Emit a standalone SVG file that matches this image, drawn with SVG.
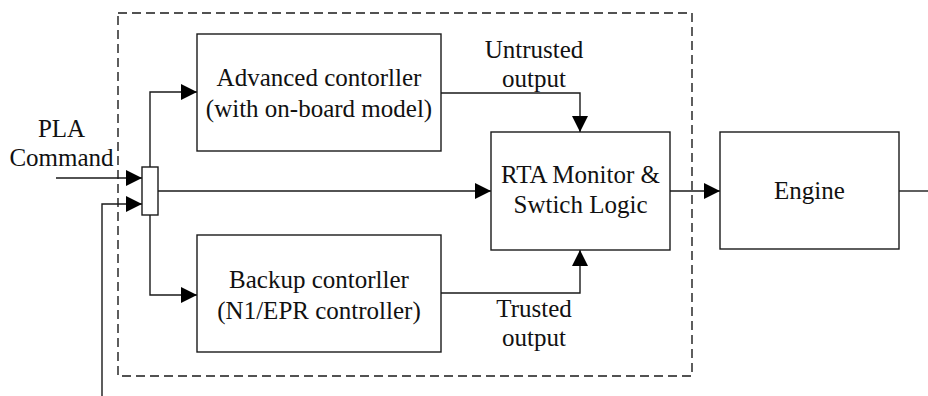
<svg xmlns="http://www.w3.org/2000/svg" width="928" height="396" viewBox="0 0 928 396">
  <style>
    .box { fill: #ffffff; stroke: #1a1a1a; stroke-width: 1.4; }
    .frame { fill: none; stroke: #1a1a1a; stroke-width: 1.4; stroke-dasharray: 9 5; }
    .wire { fill: none; stroke: #1a1a1a; stroke-width: 1.4; }
    text { font-family: 'Liberation Serif', 'Times New Roman', Times, 'DejaVu Serif', serif; font-size: 25px; fill: #111111; text-anchor: middle; }
  </style>
  <defs>
    <marker id="arrow" viewBox="0 0 16 16" markerWidth="16" markerHeight="16" refX="16" refY="8" orient="auto" markerUnits="userSpaceOnUse">
      <path d="M0,0 L16,8 L0,16 z" fill="#000000"/>
    </marker>
  </defs>

  <!-- controller boundary -->
  <rect id="controller-boundary" class="frame" x="118" y="13" width="574" height="363"/>

  <!-- connectors -->
  <g id="connectors">
    <path class="wire" d="M56,178 H142" marker-end="url(#arrow)"/>
    <path class="wire" d="M102,396 V204 H142" marker-end="url(#arrow)"/>
    <path class="wire" d="M150,167 V92 H197" marker-end="url(#arrow)"/>
    <path class="wire" d="M150,215 V295 H197" marker-end="url(#arrow)"/>
    <path class="wire" d="M158,191 H491" marker-end="url(#arrow)"/>
    <path class="wire" d="M441,93 H580 V132" marker-end="url(#arrow)"/>
    <path class="wire" d="M441,293 H580 V250" marker-end="url(#arrow)"/>
    <path class="wire" d="M670,191 H720" marker-end="url(#arrow)"/>
    <path class="wire" d="M899,191 H928"/>
  </g>

  <!-- input label -->
  <g id="pla-command">
    <text x="61.5" y="137">PLA</text>
    <text x="61.5" y="166">Command</text>
  </g>

  <!-- signal splitter -->
  <g id="splitter">
    <rect class="box" x="142" y="167" width="16" height="48"/>
  </g>

  <g id="advanced-controller">
    <rect class="box" x="197" y="34" width="244" height="117"/>
    <text x="319" y="86">Advanced contorller</text>
    <text x="319" y="117">(with on-board model)</text>
  </g>

  <g id="backup-controller">
    <rect class="box" x="197" y="235" width="244" height="117"/>
    <text x="319" y="288">Backup contorller</text>
    <text x="319" y="319">(N1/EPR controller)</text>
  </g>

  <g id="rta-monitor">
    <rect class="box" x="491" y="132" width="179" height="118"/>
    <text x="580.5" y="183">RTA Monitor &amp;</text>
    <text x="580.5" y="213">Swtich Logic</text>
  </g>

  <g id="engine">
    <rect class="box" x="720" y="132" width="179" height="117"/>
    <text x="809.5" y="199">Engine</text>
  </g>

  <!-- output labels -->
  <g id="untrusted-label">
    <text x="534" y="58">Untrusted</text>
    <text x="534" y="87">output</text>
  </g>
  <g id="trusted-label">
    <text x="534" y="317">Trusted</text>
    <text x="534" y="346">output</text>
  </g>
</svg>
